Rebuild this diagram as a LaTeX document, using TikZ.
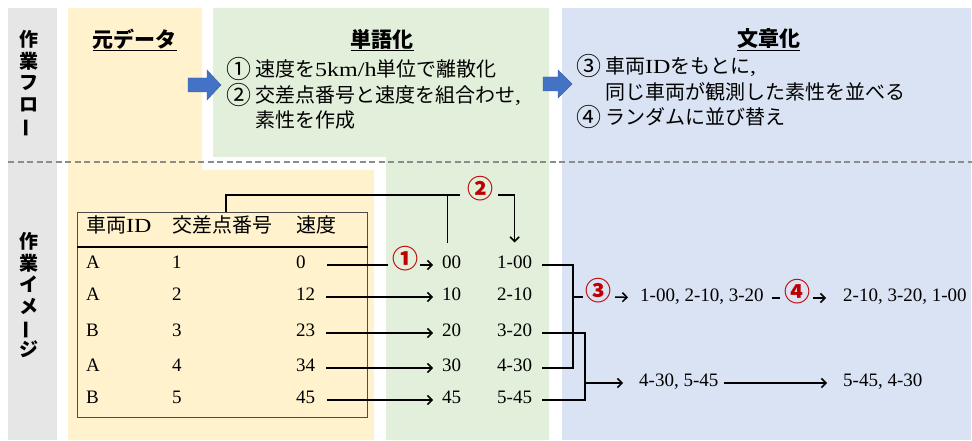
\documentclass[tikz,border=0pt]{standalone}
\usepackage{fontspec}
\setmainfont{Liberation Serif}
\newfontfamily\jp{Noto Sans CJK JP}
\newfontfamily\wlat{Liberation Serif}[FakeStretch=1.2]
\usetikzlibrary{arrows.meta}
\definecolor{graybg}{HTML}{E6E6E6}
\definecolor{orangebg}{HTML}{FFF2CC}
\definecolor{greenbg}{HTML}{E2EFDA}
\definecolor{bluebg}{HTML}{DAE3F3}
\definecolor{arrowblue}{HTML}{4472C4}
\definecolor{numred}{HTML}{C00000}
\definecolor{dashgray}{HTML}{8C8C8C}
\newcommand{\cn}[1]{\raisebox{-1.6pt}{\fontsize{25}{25}\selectfont #1}\hspace{4pt}}
\tikzset{
  lat/.style={inner sep=0pt, font=\fontsize{19}{19}\selectfont, text height=0.68em, text depth=0pt},
  jpt/.style={inner sep=0pt, font=\jp\fontsize{20}{20}\selectfont, text height=0.76em, text depth=0pt},
  titlet/.style={inner sep=0pt, font=\jp\bfseries\fontsize{21}{21}\selectfont},
  vlabel/.style={inner sep=0pt, align=center, font=\jp\bfseries\fontsize{19}{21.5}\selectfont},
  cnum/.style={inner sep=0pt, text=numred, font=\jp\bfseries\fontsize{26}{26}\selectfont, text height=0.76em, text depth=0pt},
  conn/.style={line width=1.5pt, black},
  arr/.style={conn, -{Straight Barb[length=4.5pt,width=9pt]}},
  tblbox/.style={draw=black!70, line width=1.3pt, inner sep=0pt},
  blockarrow/.style={fill=arrowblue, draw=arrowblue!85!black, line width=0.4pt},
}
\begin{document}
\begin{tikzpicture}[x=1pt,y=-1pt]
\useasboundingbox (0,0) rectangle (972,441);
% backgrounds
\fill[graybg] (8,8) rectangle (57,440);
\fill[orangebg] (68,8) -- (202,8) -- (202,170) -- (374,170) -- (374,440) -- (68,440) -- cycle;
\fill[greenbg] (213,8) -- (549,8) -- (549,440) -- (386,440) -- (386,157) -- (213,157) -- cycle;
\fill[bluebg] (562,8) rectangle (971,440);
\draw[dashgray, line width=1.6pt, dash pattern=on 6pt off 3.5pt] (8,162) -- (972,162);
% block arrows
\draw[blockarrow] (188,78) -- (207,78) -- (207,70) -- (221,85) -- (207,100) -- (207,92) -- (188,92) -- cycle;
\draw[blockarrow] (543,77) -- (558,77) -- (558,70) -- (572,84) -- (558,98) -- (558,91) -- (543,91) -- cycle;
% vertical labels
\node[vlabel] (v1) at (29,84) {作\\業\\フ\\ロ\\\rotatebox[origin=c]{90}{ー}};
\node[vlabel] (v2) at (29,295) {作\\業\\イ\\メ\\\rotatebox[origin=c]{90}{ー}\\ジ};
% titles
\node[titlet] (t1) at (134.5,40) {\underline{元データ}};
\node[titlet] (t2) at (382,40) {\underline{単語化}};
\node[titlet] (t3) at (768.5,40) {\underline{文章化}};
% green text
\node[jpt, anchor=west] (g1) at (226,73) {\cn{①}速度を{\wlat 5km/h}単位で離散化};
\node[jpt, anchor=west] (g2) at (226,99) {\cn{②}交差点番号と速度を組合わせ{\wlat ,}};
\node[jpt, anchor=west] (g3) at (255,124) {素性を作成};
% blue text
\node[jpt, anchor=west] (b1) at (576,70) {\cn{③}車両{\wlat ID}をもとに{\wlat ,}};
\node[jpt, anchor=west] (b2) at (605,96) {同じ車両が観測した素性を並べる};
\node[jpt, anchor=west] (b3) at (576,121) {\cn{④}ランダムに並び替え};
% table
\node[tblbox, anchor=north west, minimum width=290pt, minimum height=205pt] (tab) at (77,212) {};
\draw[line width=1.1pt, black] (tab.west |- 0,247) -- (tab.east |- 0,247);
\node[jpt, anchor=west] (h1) at (86,229) {車両{\wlat ID}};
\node[jpt, anchor=west] (h2) at (172,229) {交差点番号};
\node[jpt, anchor=west] (h3) at (296,229) {速度};
\node[lat, anchor=west] (id1) at (86,265) {A};
\node[lat, anchor=west] (n1) at (172,265) {1};
\node[lat, anchor=west, text width=31pt, align=left] (s1) at (296,265) {0};
\node[lat, anchor=west] (id2) at (86,297) {A};
\node[lat, anchor=west] (n2) at (172,297) {2};
\node[lat, anchor=west, text width=30pt, align=left] (s2) at (296,297) {12};
\node[lat, anchor=west] (id3) at (86,333) {B};
\node[lat, anchor=west] (n3) at (172,333) {3};
\node[lat, anchor=west, text width=30pt, align=left] (s3) at (296,333) {23};
\node[lat, anchor=west] (id4) at (86,368) {A};
\node[lat, anchor=west] (n4) at (172,368) {4};
\node[lat, anchor=west, text width=30pt, align=left] (s4) at (296,368) {34};
\node[lat, anchor=west] (id5) at (86,400) {B};
\node[lat, anchor=west] (n5) at (172,400) {5};
\node[lat, anchor=west, text width=31pt, align=left] (s5) at (296,400) {45};
% discretised
\node[lat, anchor=west] (d1) at (442,265) {00};
\node[lat, anchor=west] (d2) at (442,297) {10};
\node[lat, anchor=west] (d3) at (442,333) {20};
\node[lat, anchor=west] (d4) at (442,368) {30};
\node[lat, anchor=west] (d5) at (442,400) {45};
% combined
\node[lat, anchor=west] (c1) at (497,265) {1-00};
\node[lat, anchor=west] (c2) at (497,297) {2-10};
\node[lat, anchor=west] (c3) at (497,333) {3-20};
\node[lat, anchor=west] (c4) at (497,368) {4-30};
\node[lat, anchor=west] (c5) at (497,400) {5-45};
% sentences
\node[lat, anchor=west] (o1) at (640,298) {1-00, 2-10, 3-20};
\node[lat, anchor=west] (o2) at (843,298) {2-10, 3-20, 1-00};
\node[lat, anchor=west] (o3) at (639,383) {4-30, 5-45};
\node[lat, anchor=west] (o4) at (843,383) {5-45, 4-30};
% red circled numbers
\node[cnum] (r1) at (405,265) {①};
\node[cnum] (r2) at (480,195) {②};
\node[cnum] (r3) at (598,297) {③};
\node[cnum] (r4) at (797,298) {④};
% connectors: step 1
\draw[conn, shorten >=4pt] (s1) -- (r1);
\draw[arr, shorten <=2pt, shorten >=9pt] (r1) -- (d1);
\draw[arr, shorten >=9pt] (s2) -- (d2);
\draw[arr, shorten >=9pt] (s3) -- (d3);
\draw[arr, shorten >=9pt] (s4) -- (d4);
\draw[arr, shorten >=9pt] (s5) -- (d5);
% step 2
\draw[conn, shorten >=7pt] ([xshift=4pt]h2.center |- tab.north) |- (r2);
\draw[arr, shorten <=5pt, shorten >=19pt] (r2) -| (c1.north);
\draw[conn] ([xshift=-4pt]d1.north |- r2) -- ([xshift=-4pt,yshift=18pt]d1.north);
% step 3
\draw[conn] ([xshift=10pt]c1.east) -- ++(31,0) |- ([xshift=10pt]c4.east);
\coordinate (k1) at ([xshift=41pt]c2.east);
\draw[conn, shorten >=2pt] (k1) -- (r3);
\draw[arr, shorten <=4pt, shorten >=12pt] (r3) -- (o1);
\draw[conn] ([xshift=10pt]c3.east) -- ++(43,0) |- ([xshift=10pt]c5.east);
\coordinate (k2) at (585,383);
\draw[arr, shorten >=16pt] (k2) -- (o3);
% step 4
\draw[conn, shorten <=8pt, shorten >=4pt] (o1) -- (r4);
\draw[arr, shorten <=3pt, shorten >=17pt] (r4) -- (o2);
\draw[arr, shorten <=5pt, shorten >=16pt] (o3) -- (o4);
\end{tikzpicture}
\end{document}
